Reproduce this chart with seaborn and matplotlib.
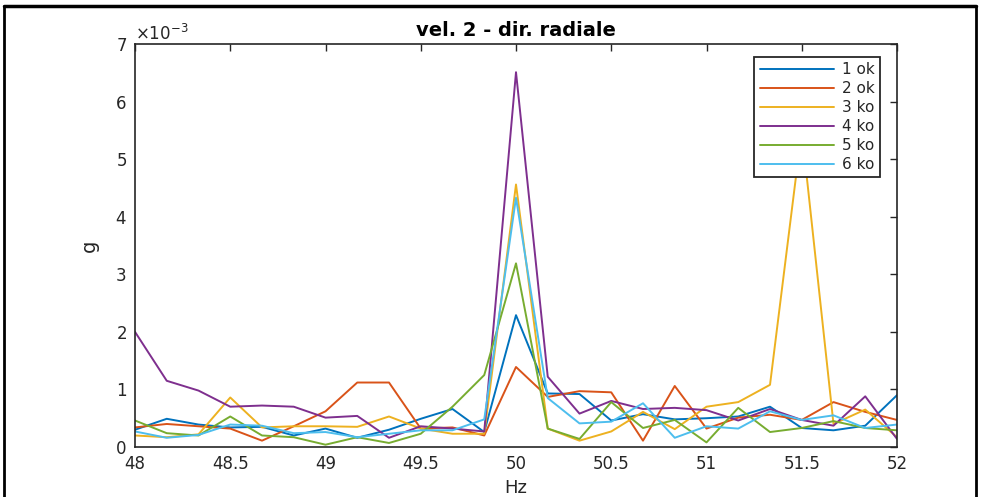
import numpy as np
import pandas as pd
import matplotlib
matplotlib.use("Agg")
import matplotlib.pyplot as plt
import seaborn as sns
from matplotlib.lines import Line2D

# ---- data (values in units of 1e-3 g) ----
freq_hz = [48 + i / 6 for i in range(25)]
s1_ok = [0.30, 0.49, 0.39, 0.34, 0.35, 0.20, 0.32, 0.16, 0.30, 0.49, 0.66, 0.26, 2.29,
         0.93, 0.92, 0.46, 0.57, 0.48, 0.50, 0.53, 0.70, 0.33, 0.29, 0.37, 0.90]
s2_ok = [0.34, 0.40, 0.36, 0.32, 0.11, 0.36, 0.62, 1.12, 1.12, 0.32, 0.34, 0.20, 1.39,
         0.87, 0.97, 0.95, 0.11, 1.06, 0.32, 0.51, 0.56, 0.47, 0.78, 0.61, 0.47]
s3_ko = [0.20, 0.17, 0.22, 0.86, 0.34, 0.36, 0.36, 0.35, 0.53, 0.32, 0.23, 0.23, 4.56,
         0.32, 0.11, 0.27, 0.61, 0.31, 0.70, 0.78, 1.08, 5.50, 0.40, 0.65, 0.17]
s4_ko = [2.00, 1.15, 0.98, 0.70, 0.72, 0.70, 0.51, 0.54, 0.16, 0.36, 0.32, 0.27, 6.51,
         1.22, 0.58, 0.80, 0.66, 0.68, 0.64, 0.46, 0.66, 0.47, 0.37, 0.88, 0.14]
s5_ko = [0.46, 0.24, 0.20, 0.53, 0.20, 0.17, 0.04, 0.17, 0.07, 0.23, 0.70, 1.25, 3.19,
         0.32, 0.14, 0.78, 0.33, 0.47, 0.08, 0.68, 0.26, 0.33, 0.45, 0.33, 0.29]
s6_ko = [0.27, 0.16, 0.21, 0.39, 0.37, 0.24, 0.26, 0.17, 0.23, 0.29, 0.29, 0.48, 4.33,
         0.85, 0.41, 0.44, 0.76, 0.16, 0.36, 0.32, 0.62, 0.47, 0.55, 0.33, 0.39]
series_labels = ["1 ok", "2 ok", "3 ko", "4 ko", "5 ko", "6 ko"]
series_values = [s1_ok, s2_ok, s3_ko, s4_ko, s5_ko, s6_ko]
colors = ["#0072BD", "#D95319", "#EDB120", "#7E2F8E", "#77AC30", "#4DBEEE"]
x_ticks = [48, 48.5, 49, 49.5, 50, 50.5, 51, 51.5, 52]
x_tick_labels = ["48", "48.5", "49", "49.5", "50", "50.5", "51", "51.5", "52"]

rows = []
for lab, vals in zip(series_labels, series_values):
    for f, v in zip(freq_hz, vals):
        rows.append({"Hz": f, "g": v * 1e-3, "serie": lab})
df = pd.DataFrame(rows)

sns.set_theme(style="white")
plt.rcParams["font.family"] = ["DejaVu Sans"]
tc = "#262626"

fig = plt.figure(figsize=(9.82, 4.97), dpi=100)
ax = fig.add_axes([135 / 982, 1 - 447 / 497, (897 - 135) / 982, (447 - 44) / 497])

sns.lineplot(data=df, x="Hz", y="g", hue="serie", palette=colors, linewidth=1.4,
             ax=ax, legend=False, sort=False, estimator=None)

ax.set_xlim(48, 52)
ax.set_ylim(0, 7e-3)
ax.set_xticks(x_ticks)
ax.set_xticklabels(x_tick_labels)
ax.set_yticks([i * 1e-3 for i in range(8)])
ax.ticklabel_format(axis="y", style="sci", scilimits=(0, 0), useMathText=True)
ax.tick_params(direction="in", top=True, right=True, length=5, width=1,
               colors=tc, labelsize=12, pad=6)
for sp in ax.spines.values():
    sp.set_color(tc)
    sp.set_linewidth(1.2)
ax.yaxis.get_offset_text().set_fontsize(12)
ax.yaxis.get_offset_text().set_color(tc)

ax.set_title("vel. 2 - dir. radiale", fontsize=14, fontweight="bold", color="black", pad=6)
ax.set_xlabel("Hz", fontsize=13, color=tc, labelpad=4)
ax.set_ylabel("g", fontsize=14, color=tc, labelpad=12)

handles = [Line2D([0], [0], color=c, lw=1.4) for c in colors]
leg = ax.legend(handles, series_labels, loc="upper right", bbox_to_anchor=(0.978, 0.968),
                fontsize=11, frameon=True, fancybox=False, handlelength=4.9,
                handletextpad=0.5, labelspacing=0.26, borderpad=0.35, borderaxespad=0,
                framealpha=1)
leg.get_frame().set_edgecolor(tc)
leg.get_frame().set_linewidth(1.3)
leg.set_zorder(10)

# screenshot border
fig.add_artist(Line2D([4 / 982, 976 / 982], [1 - 6 / 497, 1 - 6 / 497],
                      transform=fig.transFigure, color="black", lw=2.5))
fig.add_artist(Line2D([4 / 982, 4 / 982], [0, 1 - 6 / 497],
                      transform=fig.transFigure, color="black", lw=2))
fig.add_artist(Line2D([976 / 982, 976 / 982], [0, 1 - 6 / 497],
                      transform=fig.transFigure, color="black", lw=2))

fig.savefig("out.png", dpi=100)
